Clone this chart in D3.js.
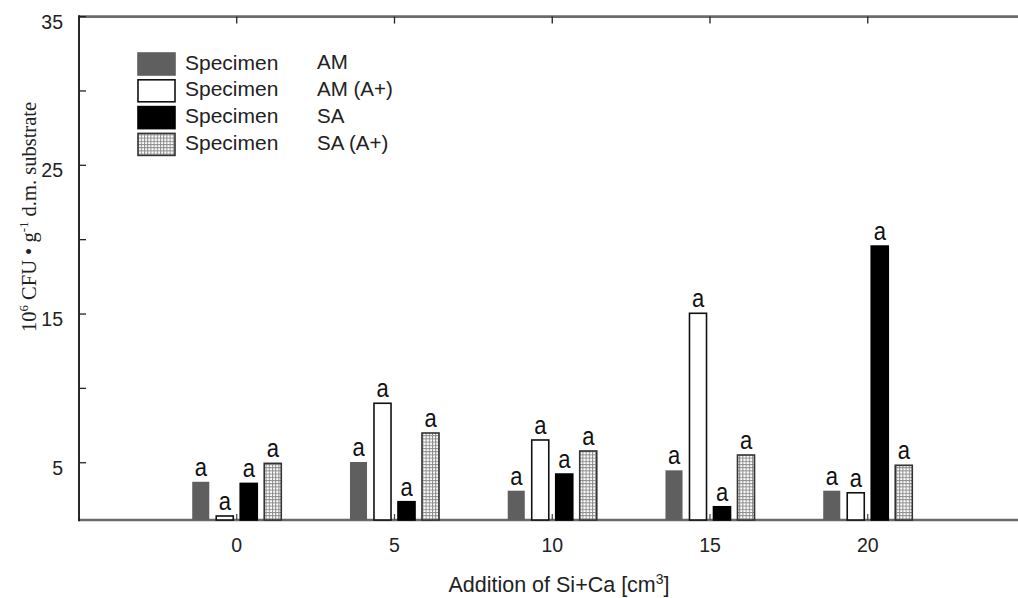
<!DOCTYPE html>
<html><head><meta charset="utf-8">
<script src="https://cdn.jsdelivr.net/npm/d3@7"></script>
<style>body{margin:0;background:#fff}svg{display:block}</style>
</head><body>
<svg id="c" width="1018" height="598"></svg>
<script>
// ---- data ----
const categories = [0, 5, 10, 15, 20];
const seriesNames = ["AM", "AM (A+)", "SA", "SA (A+)"];
const valuesAM    = [3.72, 5.05, 3.12, 4.49, 3.12];
const valuesAMA   = [1.42, 9.0, 6.53, 15.05, 2.98];
const valuesSA    = [3.61, 2.38, 4.24, 2.04, 19.57];
const valuesSAA   = [4.96, 7.0, 5.79, 5.52, 4.83];
const sigLetters  = ["a", "a", "a", "a", "a"];
const yTicks = [5, 10, 15, 20, 25, 30, 35];
const yTickLabels = [5, 15, 25, 35];

const seriesValues = [valuesAM, valuesAMA, valuesSA, valuesSAA];

(function () {
const svg = d3.select("#c");
const W = 1018;
const pL = 79, pT = 16.6, pB = 520;

// pattern for hatched bars
const defs = svg.append("defs");
const pat = defs.append("pattern").attr("id", "hatch").attr("patternUnits", "userSpaceOnUse")
  .attr("width", 3.2).attr("height", 3.2);
pat.append("rect").attr("width", 3.2).attr("height", 3.2).attr("fill", "#fff");
pat.append("path").attr("d", "M0 0.5H3.2M0.5 0V3.2").attr("stroke", "#8a8a8a").attr("stroke-width", 1);

const fills = ["#5f5f5f", "#ffffff", "#000000", "url(#hatch)"];
const strokes = ["#5f5f5f", "#111", "#000", "#333"];

const x = d3.scaleLinear().domain([-5, 25]).range([pL, 1025.5]);
const y = d3.scaleLinear().domain([1.15, 35]).range([pB, pT]);
const xs = d3.scaleBand().domain(d3.range(4)).range([-48, 48]).paddingInner(0.29).paddingOuter(0.145);

// frame lines
svg.append("line").attr("x1", pL).attr("x2", W).attr("y1", pT).attr("y2", pT)
  .attr("stroke", "#6a6a6a").attr("stroke-width", 2.6);
svg.append("line").attr("x1", pL).attr("x2", W).attr("y1", pB).attr("y2", pB)
  .attr("stroke", "#6a6a6a").attr("stroke-width", 2.6);
svg.append("line").attr("x1", pL).attr("x2", pL).attr("y1", pT - 1.3).attr("y2", pB + 1.3)
  .attr("stroke", "#111").attr("stroke-width", 1.8);

// left ticks (inward)
svg.append("g").selectAll("line").data(yTicks).join("line")
  .attr("x1", pL).attr("x2", pL + 7).attr("y1", d => y(d)).attr("y2", d => y(d))
  .attr("stroke", "#222").attr("stroke-width", 1.3);
// top and bottom ticks at categories
svg.append("g").selectAll("line").data(categories).join("line")
  .attr("x1", d => x(d)).attr("x2", d => x(d)).attr("y1", pT).attr("y2", pT + 7)
  .attr("stroke", "#222").attr("stroke-width", 1.3);
svg.append("g").selectAll("line").data(categories).join("line")
  .attr("x1", d => x(d)).attr("x2", d => x(d)).attr("y1", pB).attr("y2", pB - 6)
  .attr("stroke", "#444").attr("stroke-width", 1.2);

// y tick labels
svg.append("g").selectAll("text").data(yTickLabels).join("text")
  .attr("x", 63).attr("y", d => y(d) + 7).attr("text-anchor", "end").attr("dominant-baseline", "middle")
  .attr("font-family", "Liberation Sans, Arial, sans-serif").attr("font-size", 19.5).attr("fill", "#222")
  .text(d => d);
// x tick labels
svg.append("g").selectAll("text").data(categories).join("text")
  .attr("x", d => x(d)).attr("y", 552).attr("text-anchor", "middle")
  .attr("font-family", "Liberation Sans, Arial, sans-serif").attr("font-size", 19.5).attr("fill", "#222")
  .text(d => d);

// bars
const rows = [];
seriesValues.forEach((vals, si) => vals.forEach((v, ci) => rows.push({si, ci, v})));
svg.append("g").selectAll("rect").data(rows).join("rect")
  .attr("x", d => x(categories[d.ci]) + xs(d.si))
  .attr("width", xs.bandwidth())
  .attr("y", d => y(d.v))
  .attr("height", d => pB - y(d.v))
  .attr("fill", d => fills[d.si])
  .attr("stroke", d => strokes[d.si])
  .attr("stroke-width", d => d.si === 0 ? 0 : 1.6);
// significance letters
svg.append("g").selectAll("text").data(rows).join("text")
  .attr("transform", d => `translate(${x(categories[d.ci]) + xs(d.si) + xs.bandwidth() / 2},${y(d.v) - 6}) scale(1,1.15)`)
  .attr("text-anchor", "middle")
  .attr("font-family", "Liberation Sans, Arial, sans-serif").attr("font-size", 22).attr("fill", "#111")
  .text(d => sigLetters[d.ci]);

// legend
const leg = svg.append("g");
seriesNames.forEach((name, i) => {
  const yy = 53 + i * 26.8;
  leg.append("rect").attr("x", 138).attr("y", yy).attr("width", 37).attr("height", 22)
    .attr("fill", fills[i]).attr("stroke", i === 0 ? "#5f5f5f" : strokes[i]).attr("stroke-width", 1.6);
  leg.append("text").attr("x", 185).attr("y", yy + 11).attr("dominant-baseline", "middle")
    .attr("font-family", "Liberation Sans, Arial, sans-serif").attr("font-size", 21).attr("fill", "#222")
    .text("Specimen");
  leg.append("text").attr("x", 317).attr("y", yy + 11).attr("dominant-baseline", "middle")
    .attr("font-family", "Liberation Sans, Arial, sans-serif").attr("font-size", 20.5).attr("fill", "#222")
    .text(name);
});

// axis titles
const xt = svg.append("text").attr("x", 559).attr("y", 592).attr("text-anchor", "middle")
  .attr("font-family", "Liberation Sans, Arial, sans-serif").attr("font-size", 21.5).attr("fill", "#222");
xt.append("tspan").text("Addition of Si+Ca [cm");
xt.append("tspan").attr("dy", -8).attr("font-size", 14).text("3");
xt.append("tspan").attr("dy", 8).text("]");

const yt = svg.append("text").attr("transform", "translate(36,217) rotate(-90)").attr("text-anchor", "middle")
  .attr("font-family", "Liberation Serif, Times New Roman, serif").attr("font-size", 20.5).attr("fill", "#222");
yt.append("tspan").text("10");
yt.append("tspan").attr("dy", -8).attr("font-size", 13).text("6");
yt.append("tspan").attr("dy", 8).text(" CFU • g");
yt.append("tspan").attr("dy", -8).attr("font-size", 13).text("-1");
yt.append("tspan").attr("dy", 8).text(" d.m. substrate");
})();
</script>
</body></html>
